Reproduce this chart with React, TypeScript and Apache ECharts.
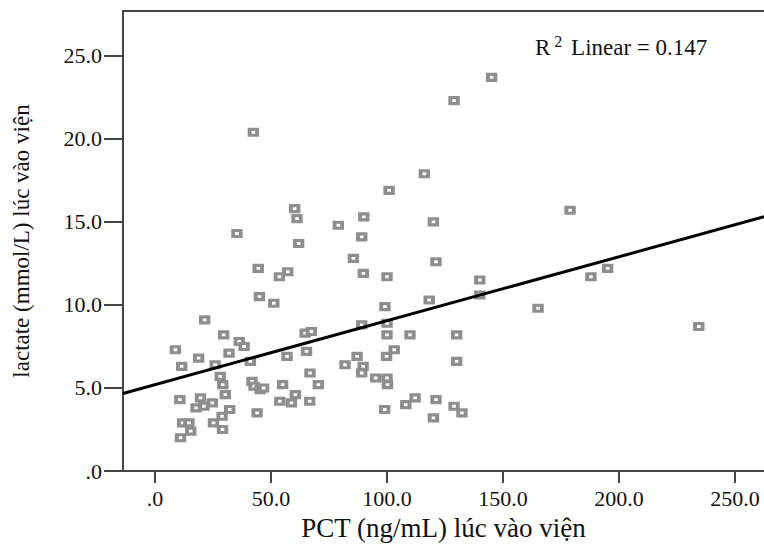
import React, { useEffect, useRef } from "react";
import * as echarts from "echarts";

// PCT (ng/mL) on admission
const pctValues = [
  42.4, 145.1, 128.9, 116.1, 100.9, 178.9, 60.2, 61.2, 35.3, 61.9,
  79.0, 90.0, 89.1, 120.0, 44.5, 57.2, 53.6, 85.5, 121.1, 89.8,
  100.0, 140.0, 140.0, 118.2, 45.0, 51.2, 99.1, 165.1, 195.1, 187.9,
  234.4, 21.4, 29.6, 36.3, 38.4, 8.8, 31.9, 18.8, 11.5, 25.9,
  41.1, 64.7, 67.4, 56.9, 65.3, 89.1, 100.0, 100.0, 109.9, 130.0,
  103.1, 99.8, 87.1, 81.9, 89.7, 89.1, 28.1, 29.2, 41.8, 42.7,
  45.3, 46.8, 55.0, 66.8, 70.4, 95.1, 100.0, 100.2, 130.0, 10.7,
  19.6, 17.7, 21.1, 24.7, 30.3, 32.2, 28.9, 25.2, 29.1, 11.9,
  14.6, 15.4, 11.0, 44.0, 53.8, 60.5, 58.8, 66.7, 112.1, 108.1,
  121.1, 99.0, 128.9, 132.3, 120.0,
];

// lactate (mmol/L) on admission
const lactateValues = [
  20.4, 23.7, 22.3, 17.9, 16.9, 15.7, 15.8, 15.2, 14.3, 13.7,
  14.8, 15.3, 14.1, 15.0, 12.2, 12.0, 11.7, 12.8, 12.6, 11.9,
  11.7, 11.5, 10.6, 10.3, 10.5, 10.1, 9.9, 9.8, 12.2, 11.7,
  8.7, 9.1, 8.2, 7.8, 7.5, 7.3, 7.1, 6.8, 6.3, 6.4,
  6.6, 8.3, 8.4, 6.9, 7.2, 8.8, 8.9, 8.2, 8.2, 8.2,
  7.3, 6.9, 6.9, 6.4, 6.3, 5.9, 5.7, 5.2, 5.4, 5.1,
  4.9, 5.0, 5.2, 5.9, 5.2, 5.6, 5.6, 5.2, 6.6, 4.3,
  4.4, 3.8, 3.9, 4.1, 4.6, 3.7, 3.3, 2.9, 2.5, 2.9,
  2.9, 2.4, 2.0, 3.5, 4.2, 4.6, 4.1, 4.2, 4.4, 4.0,
  4.3, 3.7, 3.9, 3.5, 3.2,
];

const xTicks = [0, 50, 100, 150, 200, 250];
const yTicks = [0, 5, 10, 15, 20, 25];
const xRange = [-13.8, 262.5];
const yRange = [0, 27.7];
const fitIntercept = 5.2;
const fitSlope = 0.0385;
const r2Value = "0.147";
const xTitle = "PCT (ng/mL) lúc vào viện";
const yTitle = "lactate (mmol/L) lúc vào viện";

const FONT = "'Liberation Serif', 'Times New Roman', serif";
const AXIS_COLOR = "#444";

const fmt = (v: number) => (v === 0 ? ".0" : v.toFixed(1));

export default function App() {
  const ref = useRef<HTMLDivElement>(null);

  useEffect(() => {
    if (!ref.current) return;
    const chart = echarts.init(ref.current, undefined, { renderer: "svg" });

    const points = pctValues.map((x, i) => [x, lactateValues[i]]);
    const fitLine = xRange.map((x) => [x, fitIntercept + fitSlope * x]);

    chart.setOption({
      animation: false,
      backgroundColor: "#fff",
      grid: { left: 123, top: 11, right: 0, bottom: 73.3, containLabel: false },
      xAxis: [
        {
          type: "value",
          min: xRange[0],
          max: xRange[1],
          axisLine: { show: true, onZero: false, lineStyle: { color: AXIS_COLOR, width: 2 } },
          axisTick: { show: true, customValues: xTicks, length: 12, lineStyle: { color: AXIS_COLOR, width: 2 } },
          axisLabel: {
            customValues: xTicks,
            formatter: fmt,
            margin: 16,
            fontFamily: FONT,
            fontSize: 22,
            color: "#111",
          },
          splitLine: { show: false },
          name: xTitle,
          nameLocation: "middle",
          nameGap: 43,
          nameTextStyle: { fontFamily: FONT, fontSize: 27, color: "#111" },
        },
        {
          type: "value",
          position: "top",
          min: xRange[0],
          max: xRange[1],
          axisLine: { show: true, onZero: false, lineStyle: { color: AXIS_COLOR, width: 2 } },
          axisTick: { show: false },
          axisLabel: { show: false },
          splitLine: { show: false },
        },
      ],
      yAxis: {
        type: "value",
        min: yRange[0],
        max: yRange[1],
        axisLine: { show: true, onZero: false, lineStyle: { color: AXIS_COLOR, width: 2 } },
        axisTick: { show: true, customValues: yTicks, length: 19, lineStyle: { color: AXIS_COLOR, width: 2 } },
        axisLabel: {
          customValues: yTicks,
          formatter: fmt,
          margin: 21,
          fontFamily: FONT,
          fontSize: 22,
          color: "#111",
        },
        splitLine: { show: false },
        name: yTitle,
        nameLocation: "middle",
        nameGap: 90,
        nameRotate: 90,
        nameTextStyle: { fontFamily: FONT, fontSize: 23, color: "#111" },
      },
      graphic: [
        {
          type: "text",
          left: 535,
          top: 33,
          style: {
            text: "{r|R}{s|2}{r| Linear = " + r2Value + "}",
            fontFamily: FONT,
            fill: "#111",
            rich: {
              r: { fontFamily: FONT, fontSize: 23, lineHeight: 26, verticalAlign: "bottom", fill: "#111" },
              s: { fontFamily: FONT, fontSize: 16, lineHeight: 26, verticalAlign: "top", padding: [0, 3, 0, 4], fill: "#111" },
            },
          },
        },
      ],
      series: [
        {
          type: "scatter",
          data: points,
          symbol: "rect",
          symbolSize: [7.5, 6],
          itemStyle: { color: "#fff", borderColor: "#8e8e8e", borderWidth: 3.5, opacity: 1 },
          silent: true,
          z: 2,
        },
        {
          type: "line",
          data: fitLine,
          symbol: "none",
          lineStyle: { color: "#000", width: 3 },
          silent: true,
          z: 3,
        },
      ],
    });

    return () => chart.dispose();
  }, []);

  return (
    <div
      ref={ref}
      style={{ position: "absolute", left: 0, top: 0, width: 764, height: 546 }}
    />
  );
}
